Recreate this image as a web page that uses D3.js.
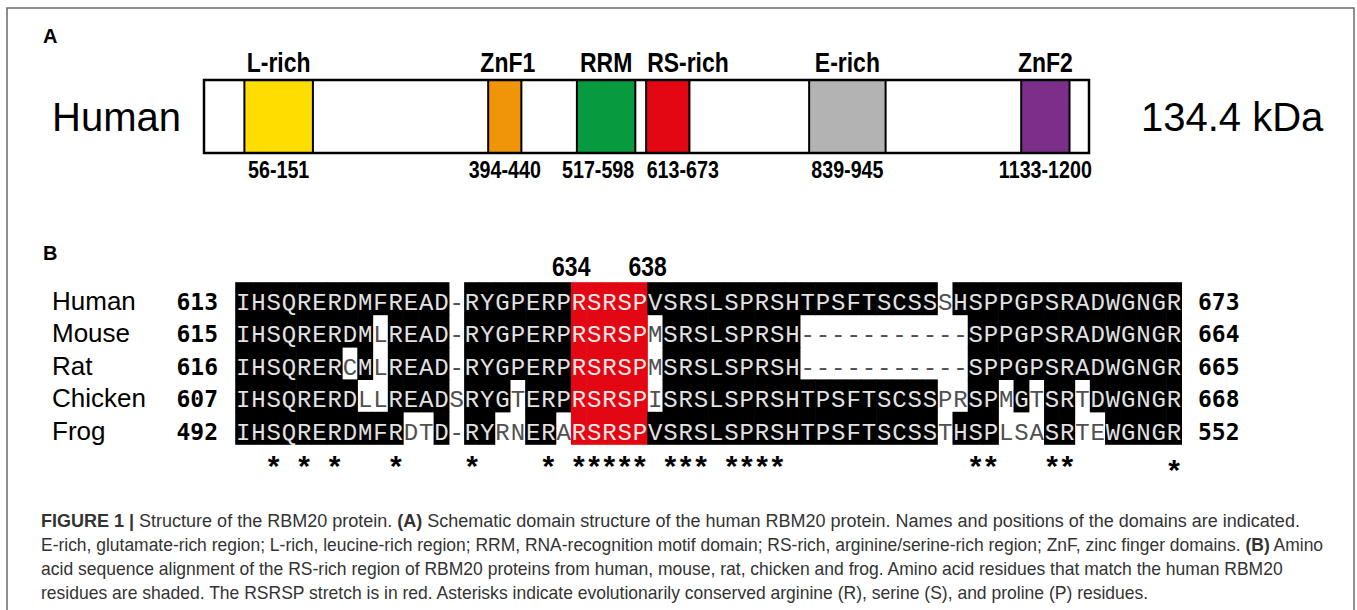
<!DOCTYPE html>
<html><head><meta charset="utf-8">
<script src="https://cdn.jsdelivr.net/npm/d3@7"></script>
<style>html,body{margin:0;padding:0;background:#fff;} svg{display:block}</style>
</head><body><svg id="fig" width="1357" height="610"></svg>
<script>
// ---------- DATA ----------
const proteinName = "Human";
const proteinLength = 1227;
const massLabel = "134.4 kDa";
const domainNames = ["L-rich", "ZnF1", "RRM", "RS-rich", "E-rich", "ZnF2"];
const domainStart = [56, 394, 517, 613, 839, 1133];
const domainEnd   = [151, 440, 598, 673, 945, 1200];

const species   = ["Human", "Mouse", "Rat", "Chicken", "Frog"];
const seqStart  = [613, 615, 616, 607, 492];
const seqEnd    = [673, 664, 665, 668, 552];
const sequences = [
  "IHSQRERDMFREAD-RYGPERPRSRSPVSRSLSPRSHTPSFTSCSSSHSPPGPSRADWGNGR",
  "IHSQRERDMLREAD-RYGPERPRSRSPMSRSLSPRSH-----------SPPGPSRADWGNGR",
  "IHSQRERCMLREAD-RYGPERPRSRSPMSRSLSPRSH-----------SPPGPSRADWGNGR",
  "IHSQRERDLLREADSRYGTERPRSRSPISRSLSPRSHTPSFTSCSSPRSPMGTSRTDWGNGR",
  "IHSQRERDMFRDTD-RYRNERARSRSPVSRSLSPRSHTPSFTSCSSTHSPLSASRTEWGNGR"
];
const highlightFrom = 634, highlightTo = 638;
const conservedResidues = "RSP";

const captionLines = [
  [["FIGURE 1 | ", true], ["Structure of the RBM20 protein. ", false], ["(A)", true], [" Schematic domain structure of the human RBM20 protein. Names and positions of the domains are indicated.", false]],
  [["E-rich, glutamate-rich region; L-rich, leucine-rich region; RRM, RNA-recognition motif domain; RS-rich, arginine/serine-rich region; ZnF, zinc finger domains. ", false], ["(B)", true], [" Amino", false]],
  [["acid sequence alignment of the RS-rich region of RBM20 proteins from human, mouse, rat, chicken and frog. Amino acid residues that match the human RBM20", false]],
  [["residues are shaded. The RSRSP stretch is in red. Asterisks indicate evolutionarily conserved arginine (R), serine (S), and proline (P) residues.", false]]
];

// ---------- DRAW ----------
const W = 1357, H = 610;
const svg = d3.select("#fig");
const SANS = "'Liberation Sans', Arial, Helvetica, sans-serif";
const MONO = "'Liberation Mono', 'Courier New', monospace";
const NUMF = "'DejaVu Sans Mono', monospace";

svg.append("path").attr("d", `M7,${H + 5}V8H1354V${H + 5}`)
  .attr("fill", "none").attr("stroke", "#6a6a6a").attr("stroke-width", 1.5);

function narrowText(g, str, xx, yy, size, anchor) {
  return g.append("text").attr("transform", `translate(${xx},${yy}) scale(0.82,1)`)
    .attr("text-anchor", anchor || "middle").attr("font-family", SANS)
    .attr("font-weight", "bold").attr("font-size", size).attr("fill", "#000").text(str);
}

// Panel A
const gA = svg.append("g");
gA.append("text").attr("x", 43).attr("y", 43).attr("font-family", SANS).attr("font-weight", "bold")
  .attr("font-size", 20).text("A");

const x = d3.scaleLinear().domain([0, proteinLength]).range([204, 1089]);
const barTop = 80, barBot = 153;
const domColor = d3.scaleOrdinal().domain(domainNames)
  .range(["#FFDD00", "#EF9507", "#079A3E", "#E30613", "#B3B3B3", "#7B2F8B"]);

gA.append("rect").attr("x", x(0)).attr("y", barTop).attr("width", x(proteinLength) - x(0))
  .attr("height", barBot - barTop).attr("fill", "#fff");
const doms = domainNames.map((n, i) => ({ name: n, s: domainStart[i], e: domainEnd[i] }));
gA.selectAll("rect.dom").data(doms).join("rect").attr("class", "dom")
  .attr("x", d => x(d.s)).attr("y", barTop).attr("width", d => x(d.e) - x(d.s))
  .attr("height", barBot - barTop).attr("fill", d => domColor(d.name))
  .attr("stroke", "#000").attr("stroke-width", 2);
gA.append("rect").attr("x", x(0)).attr("y", barTop).attr("width", x(proteinLength) - x(0))
  .attr("height", barBot - barTop).attr("fill", "none").attr("stroke", "#000").attr("stroke-width", 2.5);

doms.forEach(d => {
  const cx = (x(d.s) + x(d.e)) / 2;
  const range = `${d.s}-${d.e}`;
  if (d.name === "RS-rich") {
    narrowText(gA, d.name, x(d.s) + 1, 72, 28, "start");
    narrowText(gA, range, x(d.s) + 0.5, 178, 24, "start");
  } else {
    narrowText(gA, d.name, cx + (d.name === "ZnF1" ? 3 : 0), 72, 28);
    narrowText(gA, range, cx + (d.name === "RRM" ? -8 : 0), 178, 24);
  }
});

gA.append("text").attr("x", 52).attr("y", 131).attr("font-family", SANS).attr("font-size", 40).text(proteinName);
gA.append("text").attr("x", 1141).attr("y", 131).attr("font-family", SANS).attr("font-size", 40).text(massLabel);

// Panel B
const gB = svg.append("g");
gB.append("text").attr("x", 43).attr("y", 260).attr("font-family", SANS).attr("font-weight", "bold")
  .attr("font-size", 20).text("B");

const nCols = sequences[0].length;
const col = d3.scaleBand().domain(d3.range(nCols)).range([235.5, 1181.7]);
const row = d3.scaleBand().domain(species).range([282.5, 444.5]);
const bw = col.bandwidth(), bh = row.bandwidth();

let hn = seqStart[0] - 1;
const humanNum = sequences[0].split("").map(ch => ch === "-" ? null : ++hn);
const isRed = c => humanNum[c] !== null && humanNum[c] >= highlightFrom && humanNum[c] <= highlightTo;

const cells = [];
sequences.forEach((seq, r) => {
  seq.split("").forEach((ch, c) => {
    const hum = sequences[0][c];
    let match;
    if (r === 0) match = ch !== "-" && sequences.some((s, k) => k > 0 && s[c] === ch);
    else match = ch !== "-" && ch === hum;
    const kind = isRed(c) ? "red" : (match ? "black" : "white");
    cells.push({ r, c, ch, kind });
  });
});
const fillOf = { red: "#E30613", black: "#000", white: "#fff" };
const txtOf = { red: "#ffe8e8", black: "#e2e2e2", white: "#505050" };

gB.selectAll("rect.cell").data(cells.filter(d => d.kind !== "white")).join("rect").attr("class", "cell")
  .attr("x", d => col(d.c) - 0.3).attr("y", d => row(species[d.r]) - 0.3)
  .attr("width", bw + 0.6).attr("height", bh + 0.6).attr("fill", d => fillOf[d.kind]);
gB.selectAll("text.res").data(cells).join("text").attr("class", "res")
  .attr("x", d => col(d.c) + bw / 2).attr("y", d => row(species[d.r]) + 27.5)
  .attr("text-anchor", "middle").attr("font-family", MONO).attr("font-size", 24)
  .attr("fill", d => txtOf[d.kind]).text(d => d.ch);

species.forEach((sp, r) => {
  const by = row(sp) + 27.5;
  gB.append("text").attr("x", 52).attr("y", by).attr("font-family", SANS).attr("font-size", 26).text(sp);
  gB.append("text").attr("x", 218).attr("y", by).attr("text-anchor", "end").attr("font-family", NUMF)
    .attr("font-weight", "bold").attr("font-size", 23).text(seqStart[r]);
  gB.append("text").attr("x", 1198).attr("y", by).attr("font-family", NUMF)
    .attr("font-weight", "bold").attr("font-size", 23).text(seqEnd[r]);
});

const cFrom = humanNum.indexOf(highlightFrom), cTo = humanNum.indexOf(highlightTo);
narrowText(gB, String(highlightFrom), col(cFrom), 276, 28);
narrowText(gB, String(highlightTo), col(cTo) + bw, 276, 28);

const consCols = d3.range(nCols).filter(c => {
  const ch = sequences[0][c];
  return conservedResidues.includes(ch) && sequences.every(s => s[c] === ch);
});
gB.selectAll("text.star").data(consCols).join("text").attr("class", "star")
  .attr("x", c => col(c) + bw / 2).attr("y", c => c === nCols - 1 ? 480 : 476).attr("text-anchor", "middle")
  .attr("font-family", SANS).attr("font-weight", "bold").attr("font-size", 30).text("*");

// caption
const gC = svg.append("g");
const capBase = [527, 551, 575, 599];
const capEnd = [1301, 1324, 1283, 1149];
const capX = 41;
captionLines.forEach((segs, i) => {
  const t = gC.append("text").attr("x", 0).attr("y", 0).attr("font-family", SANS)
    .attr("font-size", 19).attr("fill", "#333");
  segs.forEach(([s, b]) => t.append("tspan").attr("font-weight", b ? "bold" : "normal").text(s));
  const nat = t.node().getComputedTextLength();
  t.attr("transform", `translate(${capX},${capBase[i]}) scale(${(capEnd[i] - capX) / nat},1)`);
});
</script></body></html>
